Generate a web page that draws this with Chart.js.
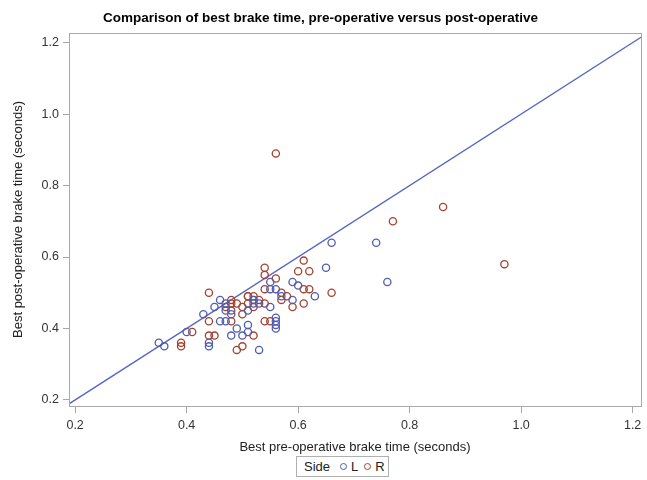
<!DOCTYPE html>
<html>
<head>
<meta charset="utf-8">
<script src="https://cdn.jsdelivr.net/npm/chart.js@4.4.1/dist/chart.umd.min.js"></script>
<style>
  html, body { margin: 0; padding: 0; background: #fff; }
  #wrap { position: relative; width: 647px; height: 480px; }
  #legend { position: absolute; left: 296px; top: 456px; width: 93px; height: 21px; border: 1px solid #b0b0b0;
    font-family: "Liberation Sans", Arial, sans-serif; font-size: 13px; color: #222;
    display: flex; align-items: center; padding: 0 0 0 7px; box-sizing: border-box; background: #fff; }
  #legend .sym { display: inline-block; width: 5px; height: 5px; border-radius: 50%; border: 1.3px solid; margin: 0 4px 0 0; }
</style>
</head>
<body>
<div id="wrap">
  <canvas id="c" width="647" height="480"></canvas>
  <div id="legend"><span style="margin-right:10px">Side</span><span class="sym" style="border-color:#4f5db0"></span><span style="margin-right:6px">L</span><span class="sym" style="border-color:#a4422f"></span><span>R</span></div>
</div>
<script>
const titleText = "Comparison of best brake time, pre-operative versus post-operative";
const xTitle = "Best pre-operative brake time (seconds)";
const yTitle = "Best post-operative brake time (seconds)";
const seriesNames = ["L", "R"];

// Side L: pre-operative (x) and post-operative (y) best brake time
const preL  = [0.35,0.36,0.40,0.43,0.44,0.44,0.45,0.46,0.46,0.47,0.47,0.48,0.49,0.50,0.51,0.52,0.51,0.51,0.53,0.52,0.53,0.55,0.55,0.56,0.55,0.57,0.56,0.56,0.56,0.56,0.59,0.60,0.59,0.63,0.65,0.66,0.74,0.76,0.47,0.48];
const postL = [0.36,0.35,0.39,0.44,0.36,0.35,0.46,0.48,0.42,0.45,0.42,0.38,0.40,0.38,0.45,0.47,0.41,0.39,0.34,0.48,0.47,0.53,0.51,0.51,0.46,0.49,0.43,0.42,0.41,0.40,0.53,0.52,0.48,0.49,0.57,0.64,0.64,0.53,0.47,0.44];

// Side R
const preR  = [0.39,0.39,0.41,0.44,0.44,0.44,0.45,0.48,0.48,0.47,0.48,0.49,0.50,0.49,0.50,0.51,0.52,0.51,0.52,0.51,0.52,0.53,0.54,0.52,0.54,0.54,0.56,0.54,0.57,0.58,0.57,0.59,0.54,0.55,0.56,0.61,0.60,0.62,0.61,0.62,0.61,0.66,0.77,0.86,0.97,0.48,0.50];
const postR = [0.36,0.35,0.39,0.50,0.42,0.38,0.38,0.48,0.47,0.46,0.42,0.47,0.46,0.34,0.35,0.49,0.48,0.47,0.46,0.49,0.49,0.48,0.47,0.38,0.57,0.55,0.54,0.51,0.50,0.49,0.48,0.46,0.42,0.42,0.89,0.59,0.56,0.56,0.51,0.51,0.47,0.50,0.70,0.74,0.58,0.45,0.44];

// identity reference line (y = x)
const refLine = [0.18, 1.23];

const xRange = [0.189, 1.215];
const yRange = [0.183, 1.227];
const tickStep = 0.2;

const toPts = (xs, ys) => xs.map((v, i) => ({x: v, y: ys[i]}));

const frame = {
  id: 'frame',
  afterDraw(chart) {
    const {ctx, chartArea: a} = chart;
    ctx.save();
    ctx.strokeStyle = '#a8a8a8';
    ctx.lineWidth = 1;
    ctx.strokeRect(Math.round(a.left) + 0.5, Math.round(a.top) + 0.5, Math.round(a.right - a.left), Math.round(a.bottom - a.top));
    ctx.restore();
  }
};

const font = "'Liberation Sans', Arial, sans-serif";

new Chart(document.getElementById('c'), {
  type: 'scatter',
  data: {
    datasets: [
      { label: 'ref', type: 'line', data: refLine.map(v => ({x: v, y: v})), borderColor: '#5566c4', borderWidth: 1.3, pointRadius: 0, fill: false, order: 3 },
      { label: seriesNames[0], data: toPts(preL, postL), borderColor: '#4f5db0', backgroundColor: 'rgba(0,0,0,0)', pointRadius: 3.6, borderWidth: 1.3, order: 1 },
      { label: seriesNames[1], data: toPts(preR, postR), borderColor: '#a4422f', backgroundColor: 'rgba(0,0,0,0)', pointRadius: 3.6, borderWidth: 1.3, order: 2 }
    ]
  },
  options: {
    responsive: false,
    animation: false,
    layout: { padding: { left: 0, right: 6, top: 0, bottom: 24 } },
    plugins: {
      legend: { display: false },
      tooltip: { enabled: false },
      title: { display: true, text: titleText, color: '#000',
        font: { family: font, size: 13.5, weight: 'bold' }, padding: { top: 10, bottom: 6.8 } }
    },
    scales: {
      x: {
        type: 'linear', min: xRange[0], max: xRange[1],
        afterFit: s => { s.height = 50; },
        ticks: { stepSize: tickStep, includeBounds: false, color: '#333', padding: 5,
          font: { family: font, size: 12.5 }, callback: v => Number(v).toFixed(1) },
        grid: { drawOnChartArea: false, drawTicks: true, tickLength: 7, color: '#a8a8a8' },
        border: { display: true, color: '#a8a8a8' },
        title: { display: true, text: xTitle, color: '#222', font: { family: font, size: 13 }, padding: { top: 0, bottom: 1 } }
      },
      y: {
        type: 'linear', min: yRange[0], max: yRange[1],
        afterFit: s => { s.width = 69; },
        ticks: { stepSize: tickStep, includeBounds: false, color: '#333', padding: 4,
          font: { family: font, size: 12.5 }, callback: v => Number(v).toFixed(1) },
        grid: { drawOnChartArea: false, drawTicks: true, tickLength: 6, color: '#a8a8a8' },
        border: { display: true, color: '#a8a8a8' },
        title: { display: true, text: yTitle, color: '#222', font: { family: font, size: 13 }, padding: { top: 11, bottom: 0 } }
      }
    }
  },
  plugins: [frame]
});
</script>
</body>
</html>
